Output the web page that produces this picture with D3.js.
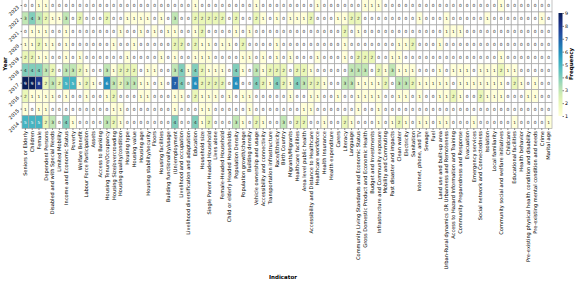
<!DOCTYPE html>
<html>
<head>
<meta charset="utf-8">
<script src="https://cdn.jsdelivr.net/npm/d3@7"></script>
<style>
body { margin: 0; background: #fff; }
text { font-family: "DejaVu Sans", sans-serif; }
</style>
</head>
<body>
<script>
// indicator names (columns)
var indicators = ["Seniors or Elderly","Children","Female","Dependent Persons","Disabled and with Special Needs",
  "Limited Mobility","Income and Economic Status","Poverty","Welfare Benefit","Labour Force Participation",
  "Assets","Access to Banking","Housing Tenure/Occupancy","Housing Size/overcrowding","Housing quality/condition",
  "Housing type","Housing value","Housing age","Housing stability/security","Floors",
  "Housing facilities","Building functionality/usage","(Un)employment","Livelihood and occupation","Livelihood diversification and adaptation",
  "Education","Household size","Single Parent Headed Household","Lives alone","Female-Headed Household",
  "Child or elderly Headed Households","Population Density","Population growth/change","Building density","Vehicle ownership and usage",
  "Accessibility and connectivity","Transportation infrastructure","Race/Ethnicity","Birth Country","Migrants/Migrants",
  "Healthcare facilities","Area level public health","Accessibility and Distance to Healthcare","Healthcare workforce","Health Insurance",
  "Health expenditure","Carers","Literacy","Language","Community Living Standards and Economic Status",
  "Gross Domestic Product and Economic Health","Budget and Investments","Infrastructure and Community exposure","Mobility and Commuting","Past disaster and impacts",
  "Clean water","Electricity","Sanitation","Internet, phone, and TV","Sewage",
  "Fuel","Land use and built-up area","Urban-Rural dynamics OR Urbanness and Remoteness","Access to Hazard Information and Training","Community Preparedness and Response",
  "Evacuation","Emergency services","Social network and Connectedness","Isolation","Local familiarity",
  "Community social and welfare initiatives","Childcare","Educational facilities","Health behavior","Pre-existing physical health condition and disability",
  "Pre-existing mental condition and needs","Crime","Marital age"];

var years = ["2023","2022","2021","2020","2019","2018","2017","2016","2015","2014"];

var y2023 = [0,0,1,1,0,0,0,0,0,0, 0,0,0,0,0,0,0,0,0,0, 0,0,0,0,0,1,0,0,0,0, 0,0,0,0,1,0,0,0,0,0,
             0,0,0,1,0,0,0,0,0,0, 1,1,1,0,0,0,0,0,0,0, 0,0,0,0,0,0,0,0,0,0, 1,0,0,0,0,0,0,0];
var y2022 = [3,4,3,2,1,1,3,0,2,0, 0,0,2,0,0,1,1,1,1,0, 1,0,3,0,0,2,2,2,2,2, 0,2,0,0,2,1,0,1,0,1,
             1,1,2,0,0,0,1,1,2,2, 0,0,0,0,0,0,0,0,1,0, 0,0,1,0,0,0,0,0,1,0, 0,0,0,0,0,0,1,0];
var y2021 = [0,1,1,1,0,0,1,0,0,0, 0,0,0,0,1,0,0,1,0,1, 0,1,1,0,0,1,2,0,0,0, 0,1,0,1,0,0,0,0,0,0,
             0,0,0,0,0,0,0,2,0,1, 0,0,0,0,0,0,0,0,0,0, 0,0,1,1,1,0,0,0,0,0, 0,0,0,0,0,0,0,0];
var y2020 = [1,1,2,1,1,0,1,0,0,0, 0,0,0,1,0,0,1,0,0,0, 0,0,2,2,0,2,1,1,0,1, 1,0,2,0,0,0,0,1,0,0,
             0,0,0,0,0,0,0,1,0,0, 0,0,0,0,0,1,1,2,0,0, 0,1,0,0,0,0,0,0,0,0, 0,0,0,0,0,0,0,0];
var y2019 = [2,2,1,1,0,0,1,0,1,0, 0,0,0,0,0,1,0,0,0,0, 1,0,1,0,0,1,1,1,0,0, 0,0,1,1,0,1,0,1,0,1,
             0,0,0,1,0,0,0,1,0,2, 2,2,0,0,1,1,0,0,0,0, 0,0,0,0,0,0,0,0,0,0, 1,0,0,0,0,0,0,0];
var y2018 = [4,4,4,3,2,0,3,3,2,1, 0,0,3,1,2,2,2,0,1,1, 0,0,3,4,1,4,2,1,1,1, 0,4,1,0,3,1,2,2,2,0,
             2,2,1,0,0,0,0,0,3,3, 3,0,2,1,3,1,1,1,0,0, 0,1,0,1,1,1,0,1,1,1, 2,1,1,0,0,0,0,0];
var y2017 = [9,9,8,2,3,2,5,5,1,2, 1,0,6,3,2,3,3,1,1,0, 1,0,7,4,0,6,2,2,2,2, 0,6,0,0,4,2,1,4,2,1,
             4,3,2,2,1,0,0,3,3,1, 1,1,1,2,0,3,3,2,1,1, 1,1,1,0,1,1,1,1,1,1, 1,0,2,1,0,1,0,0];
var y2016 = [2,1,1,1,1,0,1,0,0,1, 0,0,1,2,0,0,0,1,1,0, 0,0,1,1,0,2,1,1,1,0, 1,0,1,1,0,0,0,0,0,1,
             0,0,1,1,0,0,1,0,0,1, 1,1,1,0,0,1,1,0,1,0, 0,1,1,2,1,0,0,2,1,1, 1,0,0,0,1,1,0,0];
var y2015 = [1,0,1,1,0,0,0,0,0,0, 0,0,0,1,1,0,0,0,0,0, 0,0,1,0,0,0,1,1,0,0, 0,0,0,1,0,0,0,0,0,0,
             0,1,1,0,0,0,0,0,0,1, 0,0,1,0,0,0,0,0,0,0, 0,0,0,0,0,0,0,0,0,0, 0,0,0,0,0,0,0,0];
var y2014 = [5,5,5,2,3,0,4,1,0,0, 0,0,3,2,1,0,0,0,0,0, 0,0,4,0,0,4,1,2,0,0, 0,3,1,0,2,1,0,0,3,0,
             2,2,0,0,1,0,0,2,1,0, 0,0,1,0,1,2,1,0,1,1, 0,1,1,0,0,0,1,0,0,0, 0,0,1,0,0,0,0,1];

var rows = [y2023, y2022, y2021, y2020, y2019, y2018, y2017, y2016, y2015, y2014];
var cbarTicks = [1,2,3,4,5,6,7,8,9];

var cells = [];
rows.forEach(function(r, i){
    r.forEach(function(v, j){
        cells.push({year: years[i], ind: indicators[j], v: v});
    });
});

var svg = d3.select("body").append("svg")
    .attr("width", 575)
    .attr("height", 282);

var x = d3.scaleBand().domain(indicators).range([22, 552]);
var y = d3.scaleBand().domain(years).range([-1, 128.5]);
var color = d3.scaleSequential(d3.interpolateYlGnBu).domain([1, 9]);

svg.append("g").selectAll("rect")
    .data(cells)
    .enter().append("rect")
    .attr("x", function(d){ return x(d.ind); })
    .attr("y", function(d){ return y(d.year); })
    .attr("width", x.bandwidth())
    .attr("height", y.bandwidth())
    .style("fill", function(d){ return d.v == 0 ? "#ffffff" : color(d.v); })
    .style("stroke", "#a8a8a8")
    .style("stroke-width", 0.7);

svg.append("g").selectAll("text")
    .data(cells)
    .enter().append("text")
    .attr("x", function(d){ return x(d.ind) + x.bandwidth() / 2; })
    .attr("y", function(d){ return y(d.year) + y.bandwidth() / 2; })
    .attr("dy", "0.35em")
    .attr("text-anchor", "middle")
    .style("font-size", "4.3px")
    .style("fill", function(d){ return d.v >= 5 ? "#ffffff" : "#262626"; })
    .text(function(d){ return d.v; });

// x axis
var xAxis = svg.append("g")
    .attr("transform", "translate(0,128.5)")
    .call(d3.axisBottom(x).tickSize(1.5).tickSizeOuter(0));
xAxis.select(".domain").remove();
xAxis.selectAll("line").style("stroke-width", 0.5);
xAxis.selectAll("text")
    .style("font-size", "5.1px")
    .style("font-family", "DejaVu Sans")
    .attr("text-anchor", "end")
    .attr("transform", "rotate(-90)")
    .attr("x", -2.5)
    .attr("y", 0)
    .attr("dy", "0.35em");

// y axis
var yAxis = svg.append("g")
    .attr("transform", "translate(22,0)")
    .call(d3.axisLeft(y).tickSize(1.5).tickSizeOuter(0));
yAxis.select(".domain").remove();
yAxis.selectAll("line").style("stroke-width", 0.5);
yAxis.selectAll("text")
    .style("font-size", "4.8px")
    .style("font-family", "DejaVu Sans")
    .attr("text-anchor", "end")
    .attr("x", 0)
    .attr("dy", 0)
    .attr("transform", "translate(-2.5,2) rotate(-45)");

svg.append("text")
    .attr("transform", "translate(7,64) rotate(-90)")
    .attr("text-anchor", "middle")
    .style("font-size", "5.5px")
    .style("font-weight", "bold")
    .text("Year");

svg.append("text")
    .attr("x", 283)
    .attr("y", 279)
    .attr("text-anchor", "middle")
    .style("font-size", "5.5px")
    .style("font-weight", "bold")
    .text("Indicator");

// colour bar
var grad = svg.append("defs").append("linearGradient")
    .attr("id", "cbar")
    .attr("x1", "0").attr("y1", "1").attr("x2", "0").attr("y2", "0");
d3.range(0, 1.01, 0.1).forEach(function(t){
    grad.append("stop").attr("offset", t).attr("stop-color", d3.interpolateYlGnBu(t));
});
var cy = d3.scaleLinear().domain([1, 9]).range([116, 13]);
svg.append("rect")
    .attr("x", 558.5)
    .attr("y", 13)
    .attr("width", 4)
    .attr("height", 103)
    .style("fill", "url(#cbar)");
var cAxis = svg.append("g")
    .attr("transform", "translate(562.5,0)")
    .call(d3.axisRight(cy).tickValues(cbarTicks).tickSize(1.5).tickFormat(d3.format("d")));
cAxis.select(".domain").remove();
cAxis.selectAll("line").style("stroke-width", 0.5);
cAxis.selectAll("text")
    .style("font-size", "4.8px")
    .style("font-family", "DejaVu Sans")
    .attr("x", 2.5);

svg.append("text")
    .attr("transform", "translate(573,64) rotate(-90)")
    .attr("text-anchor", "middle")
    .style("font-size", "5.5px")
    .style("font-weight", "bold")
    .text("Frequency");
</script>
</body>
</html>
